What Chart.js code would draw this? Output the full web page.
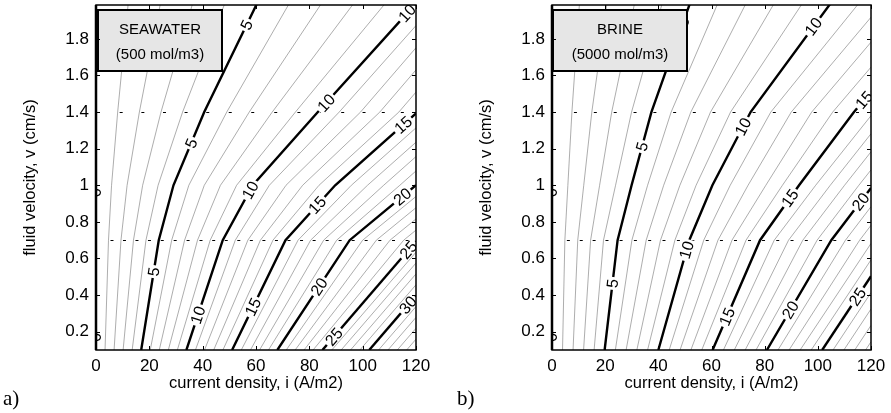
<!DOCTYPE html>
<html>
<head>
<meta charset="utf-8">
<script src="https://cdn.jsdelivr.net/npm/chart.js@4.4.1/dist/chart.umd.min.js"></script>
<style>
  body { margin: 0; background: #fff; width: 891px; height: 413px; overflow: hidden; position: relative; }
  canvas { position: absolute; top: 0; }
  #seawater { left: 0; }
  #brine { left: 445px; }
  .tag { position: absolute; top: 386px; font-family: "Liberation Serif", "Times New Roman", serif; font-size: 21px; color: #000; }
</style>
</head>
<body>
<canvas id="seawater" width="445" height="413"></canvas>
<canvas id="brine" width="446" height="413"></canvas>
<div class="tag" style="left:3px">a)</div>
<div class="tag" style="left:457px">b)</div>
<script>
// grid the contours were computed on
var iGrid = [0, 20, 40, 60, 80, 100, 120];      // current density, A/m2
var vGrid = [0.1, 0.7, 1.0, 1.4, 2.0];          // fluid velocity, cm/s

// values, one row per velocity
var seawaterZ = [
  [0, 5.9, 11.8, 17.6, 23.6, 29.3, 35.0],
  [0, 4.27, 8.4, 12.65, 16.9, 21.0, 24.9],
  [0, 3.43, 6.9, 10.2, 13.4, 16.7, 20.0],
  [0, 2.46, 4.93, 7.3, 9.6, 12.1, 14.9],
  [0, 1.65, 3.3, 4.95, 6.6, 8.25, 9.95]
];
var brineZ = [
  [0, 5.05, 10.0, 14.9, 19.8, 24.6, 29.5],
  [0, 4.13, 7.85, 11.54, 15.33, 19.05, 22.8],
  [0, 3.35, 6.67, 9.95, 12.93, 16.13, 19.85],
  [0, 2.67, 5.35, 8.05, 10.7, 13.3, 15.8],
  [0, 1.93, 3.85, 5.76, 7.64, 9.52, 11.4]
];

var contourLevels = [1, 2, 3, 4, 5, 6, 7, 8, 9, 10, 11, 12, 13, 14, 15, 16, 17, 18, 19, 20,
  21, 22, 23, 24, 25, 26, 27, 28, 29, 30, 31, 32, 33, 34, 35];
var xTicks = [0, 20, 40, 60, 80, 100, 120];
var yTicks = [0.2, 0.4, 0.6, 0.8, 1, 1.2, 1.4, 1.6, 1.8];

// inline contour labels: [level, velocity]
var seawaterLabels = [[0, 0.96], [0, 0.17], [5, 1.876], [5, 1.23], [5, 0.528],
  [10, 0.291], [10, 0.974], [10, 1.45], [10, 1.94], [15, 0.335], [15, 0.892], [15, 1.33],
  [20, 0.446], [20, 0.938], [25, 0.173], [25, 0.646], [30, 0.346]];
var brineLabels = [[0, 0.96], [0, 0.17], [5, 1.894], [5, 1.211], [5, 0.464],
  [10, 0.646], [10, 1.32], [10, 1.867], [15, 0.282], [15, 0.93], [15, 1.466],
  [20, 0.319], [20, 0.91], [25, 0.391]];

var dashRows = [0.7, 1.4];
var FONT = '"Liberation Sans", Arial, sans-serif';

function crosses(a, b, L) {
  return (a < L && b >= L) || (a >= L && b < L);
}

// crossings on every grid row, plus where the level leaves through the side edges
function contourPoints(Z, L) {
  var pts = [];
  for (var r = 0; r < vGrid.length; r++) {
    for (var c = 0; c < iGrid.length - 1; c++) {
      var a = Z[r][c], b = Z[r][c + 1];
      if (crosses(a, b, L)) {
        var t = (L - a) / (b - a);
        pts.push({ x: iGrid[c] + t * (iGrid[c + 1] - iGrid[c]), y: vGrid[r] });
      }
    }
  }
  [0, iGrid.length - 1].forEach(function (c) {
    for (var r = 0; r < vGrid.length - 1; r++) {
      var a = Z[r][c], b = Z[r + 1][c];
      if (crosses(a, b, L)) {
        var t = (L - a) / (b - a);
        pts.push({ x: iGrid[c], y: vGrid[r] + t * (vGrid[r + 1] - vGrid[r]) });
      }
    }
  });
  pts.sort(function (p, q) { return p.y - q.y; });
  var out = [];
  pts.forEach(function (p) {
    var last = out[out.length - 1];
    if (!last || Math.abs(last.x - p.x) > 1e-6 || Math.abs(last.y - p.y) > 1e-6) out.push(p);
  });
  return out;
}

function maxOf(Z) {
  var m = 0;
  Z.forEach(function (row) { row.forEach(function (z) { if (z > m) m = z; }); });
  return m;
}

function pointOnContour(pts, v) {
  for (var k = 0; k < pts.length - 1; k++) {
    var p = pts[k], q = pts[k + 1];
    if (v >= p.y && v <= q.y) {
      var t = (v - p.y) / (q.y - p.y);
      return { x: p.x + t * (q.x - p.x), p: p, q: q };
    }
  }
  return null;
}

var panelDecor = {
  id: 'panelDecor',
  afterDatasetsDraw: function (chart, args, opts) {
    var ctx = chart.ctx, ca = chart.chartArea;
    var xs = chart.scales.x, ys = chart.scales.y;
    var Z = opts.Z;

    ctx.save();
    ctx.beginPath();
    ctx.rect(ca.left, ca.top, ca.right - ca.left, ca.bottom - ca.top);
    ctx.clip();

    // little dashes where the contours hit the grid rows
    ctx.strokeStyle = '#000';
    ctx.lineWidth = 1;
    dashRows.forEach(function (v) {
      var r = vGrid.indexOf(v);
      contourLevels.forEach(function (L) {
        for (var c = 0; c < iGrid.length - 1; c++) {
          var a = Z[r][c], b = Z[r][c + 1];
          if (crosses(a, b, L)) {
            var i = iGrid[c] + (L - a) / (b - a) * (iGrid[c + 1] - iGrid[c]);
            var x = xs.getPixelForValue(i), y = Math.round(ys.getPixelForValue(v)) + 0.5;
            ctx.beginPath();
            ctx.moveTo(x + 2, y);
            ctx.lineTo(x + 5, y);
            ctx.stroke();
          }
        }
      });
    });

    // contour labels
    ctx.font = '16px ' + FONT;
    ctx.textAlign = 'center';
    ctx.textBaseline = 'middle';
    opts.labels.forEach(function (lab) {
      var L = lab[0], v = lab[1], x, y, ang;
      if (L === 0) {
        x = xs.getPixelForValue(0);
        y = ys.getPixelForValue(v);
        ang = -Math.PI / 2;
      } else {
        var hit = pointOnContour(contourPoints(Z, L), v);
        if (!hit) return;
        x = xs.getPixelForValue(hit.x);
        y = ys.getPixelForValue(v);
        var dx = xs.getPixelForValue(hit.q.x) - xs.getPixelForValue(hit.p.x);
        var dy = ys.getPixelForValue(hit.q.y) - ys.getPixelForValue(hit.p.y);
        ang = Math.atan2(dy, dx);
      }
      var txt = String(L);
      var w = ctx.measureText(txt).width;
      ctx.save();
      ctx.translate(x, y);
      ctx.rotate(ang);
      ctx.fillStyle = '#fff';
      ctx.fillRect(-w / 2 - 2, -6, w + 4, 12);
      ctx.fillStyle = '#000';
      ctx.fillText(txt, 0, 1);
      ctx.restore();
    });
    ctx.restore();

    // text box in the top left corner
    var bx = ca.left + opts.box.dx, by = ca.top + 5, bw = opts.box.w, bh = 61;
    ctx.save();
    ctx.fillStyle = '#e6e6e6';
    ctx.fillRect(bx, by, bw, bh);
    ctx.strokeStyle = '#000';
    ctx.lineWidth = 2;
    ctx.strokeRect(bx, by, bw, bh);
    ctx.fillStyle = '#000';
    ctx.font = '15px ' + FONT;
    ctx.textAlign = 'center';
    ctx.textBaseline = 'alphabetic';
    ctx.fillText(opts.box.lines[0], bx + bw / 2, by + 24);
    ctx.fillText(opts.box.lines[1], bx + bw / 2, by + 49);
    ctx.restore();

    // axes frame with inward ticks
    ctx.save();
    ctx.strokeStyle = '#000';
    ctx.lineWidth = 1.5;
    ctx.strokeRect(ca.left, ca.top, ca.right - ca.left, ca.bottom - ca.top);
    ctx.lineWidth = 2.5;
    ctx.beginPath();
    ctx.moveTo(ca.left, ca.top);
    ctx.lineTo(ca.left, ca.bottom);
    ctx.stroke();
    ctx.lineWidth = 1;
    xTicks.forEach(function (t) {
      var x = Math.round(xs.getPixelForValue(t)) + 0.5;
      ctx.beginPath();
      ctx.moveTo(x, ca.bottom); ctx.lineTo(x, ca.bottom - 4);
      ctx.moveTo(x, ca.top); ctx.lineTo(x, ca.top + 4);
      ctx.stroke();
    });
    yTicks.forEach(function (t) {
      var y = Math.round(ys.getPixelForValue(t)) + 0.5;
      ctx.beginPath();
      ctx.moveTo(ca.left, y); ctx.lineTo(ca.left + 4, y);
      ctx.moveTo(ca.right, y); ctx.lineTo(ca.right - 4, y);
      ctx.stroke();
    });
    ctx.restore();
  }
};

function makePanel(id, Z, labels, box, yAxisWidth, padRight, yTitlePad) {
  var top = maxOf(Z);
  var datasets = contourLevels.filter(function (L) { return L < top; }).map(function (L) {
    var thick = L % 5 === 0;
    return {
      label: 'level ' + L,
      data: contourPoints(Z, L),
      showLine: true,
      pointRadius: 0,
      borderColor: thick ? '#000' : '#8a8a8a',
      borderWidth: thick ? 2.4 : 0.7,
      tension: 0,
      order: thick ? 0 : 1
    };
  });

  return new Chart(document.getElementById(id), {
    type: 'scatter',
    data: { datasets: datasets },
    plugins: [panelDecor],
    options: {
      responsive: false,
      animation: false,
      events: [],
      layout: { padding: { left: 0, right: padRight, top: 5, bottom: 0 } },
      plugins: {
        legend: { display: false },
        tooltip: { enabled: false },
        panelDecor: { Z: Z, labels: labels, box: box }
      },
      scales: {
        x: {
          type: 'linear', min: 0, max: 120,
          afterBuildTicks: function (s) { s.ticks = xTicks.map(function (v) { return { value: v }; }); },
          afterFit: function (s) { s.height = 63; s.paddingLeft = 0; s.paddingRight = 0; },
          grid: { display: false, drawTicks: false },
          border: { display: false },
          ticks: { color: '#000', font: { family: FONT, size: 17 }, padding: 6, maxRotation: 0, autoSkip: false },
          title: { display: true, text: 'current density, i (A/m2)', color: '#000',
                   font: { family: FONT, size: 16.5 }, padding: { top: 0, bottom: 20 } }
        },
        y: {
          type: 'linear', min: 0.1, max: 1.985,
          afterBuildTicks: function (s) { s.ticks = yTicks.map(function (v) { return { value: v }; }); },
          afterFit: function (s) { s.width = yAxisWidth; s.paddingTop = 0; s.paddingBottom = 0; },
          grid: { display: false, drawTicks: false },
          border: { display: false },
          ticks: { color: '#000', font: { family: FONT, size: 17 }, padding: 7,
                   callback: function (v) { return String(v); } },
          title: { display: true, text: 'fluid velocity, v (cm/s)', color: '#000',
                   font: { family: FONT, size: 16.5 }, padding: { top: yTitlePad, bottom: 0 } }
        }
      }
    }
  });
}

makePanel('seawater', seawaterZ, seawaterLabels,
  { dx: 2, w: 124, lines: ['SEAWATER', '(500 mol/m3)'] }, 96, 29, 21);
makePanel('brine', brineZ, brineLabels,
  { dx: 1, w: 134, lines: ['BRINE', '(5000 mol/m3)'] }, 107, 20, 32);
</script>
</body>
</html>
